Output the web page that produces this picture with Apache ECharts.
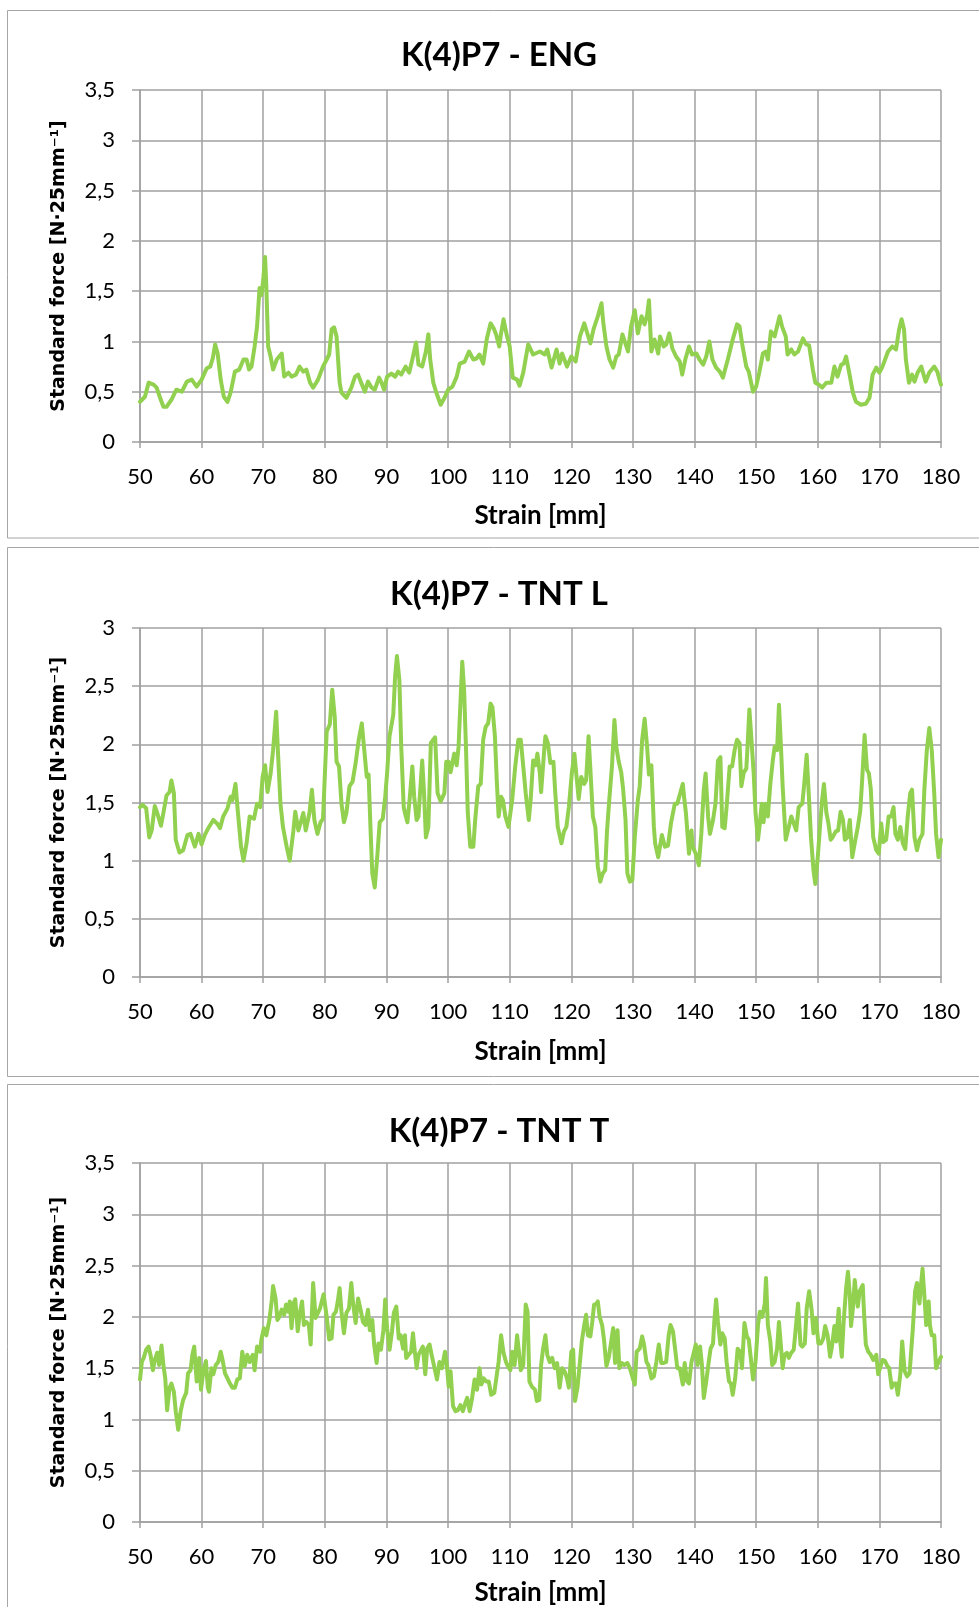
<!DOCTYPE html>
<html><head><meta charset="utf-8">
<script src="https://cdn.jsdelivr.net/npm/echarts@6/dist/echarts.min.js"></script>
<style>html,body{margin:0;padding:0;background:#fff}#c{width:979px;height:1607px}</style>
</head><body><div id="c"></div>
<script>
const chartTitles = ['K(4)P7 - ENG', 'K(4)P7 - TNT L', 'K(4)P7 - TNT T'];
const xAxisTitle = 'Strain [mm]';
const yAxisTitle = 'Standard force [N·25mm⁻¹]';
const xTicks = [50, 180, 10];
const yMaxes = [3.5, 3, 3.5];

const engX = [50.0,50.8,51.4,52.2,52.7,53.2,53.8,54.3,55.1,55.9,56.8,57.6,58.4,59.2,60.0,60.8,61.4,61.8,62.2,62.6,63.1,63.6,64.2,64.7,65.4,66.1,66.8,67.3,67.7,68.1,68.6,69.0,69.4,69.7,70.0,70.3,70.5,70.8,71.2,71.6,72.2,73.0,73.4,74.1,74.6,75.3,75.9,76.5,77.0,77.6,78.1,78.9,79.7,80.3,80.7,81.1,81.5,81.9,82.4,82.7,83.5,84.3,84.9,85.4,85.9,86.5,87.0,87.6,88.1,88.8,89.2,89.6,90.1,90.8,91.4,91.9,92.4,93.1,93.7,94.2,94.8,95.2,95.8,96.4,96.8,97.1,97.6,98.1,98.8,99.5,100.0,100.7,101.4,101.9,102.7,103.4,104.1,104.6,105.1,105.7,106.3,106.9,107.4,107.8,108.3,108.6,109.0,109.5,110.0,110.5,111.2,111.6,112.2,113.0,113.8,114.9,115.7,116.1,116.8,117.6,118.1,118.5,119.3,120.0,120.7,121.4,122.1,122.5,123.1,123.6,124.3,124.9,125.2,125.7,126.2,126.8,127.3,127.7,128.3,128.6,129.2,129.7,130.3,130.8,131.4,131.9,132.3,132.6,133.0,133.5,134.1,134.4,135.0,135.4,135.9,136.4,137.0,137.6,138.0,138.5,139.1,139.6,140.3,140.8,141.4,141.9,142.4,142.9,143.5,144.1,144.6,145.4,146.2,146.9,147.3,147.8,148.4,148.8,149.5,150.0,150.5,151.1,151.6,151.9,152.4,153.0,153.4,153.8,154.2,154.8,155.1,155.7,156.2,156.8,157.6,158.1,158.6,159.2,159.6,160.2,160.7,161.4,162.2,162.7,163.2,163.8,164.2,164.6,165.1,165.7,166.2,167.0,167.8,168.4,168.9,169.5,170.0,170.5,171.4,172.1,172.7,173.2,173.6,174.0,174.3,174.8,175.3,175.7,176.2,176.8,177.5,178.1,178.9,179.4,180.0];
const engY = [0.40,0.45,0.59,0.57,0.54,0.45,0.35,0.35,0.42,0.52,0.50,0.60,0.62,0.55,0.62,0.73,0.75,0.83,0.97,0.88,0.62,0.45,0.40,0.49,0.70,0.72,0.82,0.82,0.72,0.75,0.95,1.15,1.53,1.46,1.61,1.84,1.55,0.95,0.85,0.72,0.82,0.88,0.65,0.69,0.65,0.67,0.75,0.70,0.72,0.59,0.54,0.62,0.75,0.82,0.87,1.12,1.14,1.05,0.59,0.49,0.44,0.54,0.65,0.67,0.59,0.50,0.60,0.54,0.52,0.64,0.59,0.52,0.65,0.68,0.65,0.70,0.67,0.75,0.69,0.82,0.99,0.77,0.75,0.90,1.07,0.82,0.59,0.49,0.37,0.45,0.52,0.55,0.65,0.78,0.80,0.90,0.82,0.83,0.87,0.78,1.03,1.18,1.13,1.07,0.95,1.08,1.22,1.07,0.95,0.64,0.62,0.56,0.69,0.97,0.87,0.90,0.87,0.92,0.74,0.92,0.78,0.88,0.75,0.85,0.80,1.05,1.18,1.10,0.98,1.12,1.25,1.38,1.18,0.95,0.82,0.74,0.85,0.87,1.07,1.08,0.90,1.15,1.31,1.08,1.25,1.17,1.26,1.41,0.90,1.02,0.88,1.05,0.95,0.97,1.08,0.93,0.85,0.80,0.67,0.82,0.95,0.87,0.88,0.82,0.77,0.85,1.00,0.82,0.74,0.70,0.64,0.82,1.02,1.17,1.15,0.95,0.75,0.70,0.50,0.55,0.69,0.88,0.90,0.82,1.10,1.05,1.15,1.25,1.15,1.05,0.87,0.92,0.87,0.90,1.03,0.97,0.96,0.72,0.59,0.57,0.54,0.59,0.59,0.75,0.65,0.77,0.78,0.85,0.69,0.49,0.40,0.37,0.38,0.44,0.67,0.74,0.69,0.75,0.90,0.95,0.92,1.12,1.22,1.12,0.82,0.59,0.67,0.60,0.69,0.75,0.60,0.69,0.75,0.70,0.57];

const tntLX = [50.0,50.4,51.0,51.5,51.9,52.4,52.8,53.4,53.8,54.3,54.8,55.1,55.5,55.8,56.4,57.0,57.7,58.2,58.9,59.5,60.0,60.5,61.2,61.9,62.5,63.0,63.5,64.2,64.7,65.0,65.5,65.9,66.4,66.8,67.3,67.8,68.5,69.0,69.5,69.9,70.3,70.7,71.2,71.6,72.1,72.4,72.8,73.2,73.8,74.3,74.9,75.2,75.7,76.1,76.5,76.9,77.5,77.9,78.3,78.8,79.3,79.7,80.3,80.8,81.2,81.6,81.9,82.3,82.7,83.1,83.5,84.0,84.5,85.0,85.5,86.0,86.4,86.8,87.1,87.4,87.7,88.1,88.5,88.9,89.4,89.8,90.1,90.5,91.1,91.4,91.7,92.1,92.4,92.8,93.0,93.4,93.8,94.2,94.5,94.9,95.2,95.8,96.1,96.4,96.8,97.2,97.6,97.9,98.3,98.8,99.4,99.7,100.1,100.4,101.0,101.4,101.7,102.1,102.3,102.6,102.9,103.2,103.6,104.1,104.4,104.9,105.3,105.7,106.1,106.5,106.9,107.2,107.6,107.9,108.2,108.6,108.9,109.3,109.8,110.4,110.9,111.4,111.8,112.2,112.6,113.1,113.4,113.8,114.2,114.5,114.9,115.1,115.6,115.8,116.2,116.6,117.1,117.4,117.8,118.4,118.8,119.2,119.6,120.1,120.5,120.8,121.2,121.6,122.1,122.4,122.8,123.1,123.5,123.9,124.3,124.7,125.1,125.5,125.8,126.2,126.6,127.0,127.3,127.7,128.1,128.4,128.8,129.1,129.5,129.9,130.3,130.8,131.1,131.5,131.9,132.3,132.6,133.0,133.4,133.6,134.1,134.7,135.2,135.7,136.2,136.8,137.2,138.1,138.3,138.6,139.1,139.5,139.7,140.2,140.7,141.1,141.5,141.8,142.2,142.5,143.0,143.4,143.8,144.2,144.5,144.9,145.2,145.7,146.1,146.5,146.9,147.3,147.6,148.0,148.4,148.6,148.9,149.2,149.6,149.9,150.3,150.6,150.9,151.2,151.5,151.9,152.3,152.7,153.0,153.4,153.7,154.0,154.3,154.8,155.1,155.7,156.1,156.5,156.9,157.5,157.8,158.2,158.5,158.9,159.3,159.6,160.0,160.4,160.7,161.0,161.4,161.7,162.1,162.4,162.9,163.3,163.7,164.1,164.4,164.8,165.2,165.6,166.0,166.5,166.9,167.2,167.6,168.0,168.3,168.6,169.0,169.5,169.9,170.3,170.6,171.1,171.5,171.9,172.3,172.6,173.0,173.4,173.8,174.2,174.6,175.0,175.3,175.7,176.1,176.5,177.0,177.3,177.7,178.1,178.5,178.9,179.2,179.6,180.0];
const tntLY = [1.46,1.48,1.45,1.20,1.26,1.47,1.41,1.30,1.41,1.56,1.59,1.69,1.58,1.18,1.07,1.09,1.22,1.23,1.12,1.23,1.14,1.22,1.29,1.35,1.32,1.28,1.38,1.45,1.55,1.52,1.66,1.41,1.12,1.00,1.15,1.38,1.36,1.49,1.46,1.72,1.82,1.59,1.75,1.95,2.28,1.92,1.49,1.29,1.12,1.00,1.26,1.42,1.26,1.33,1.41,1.26,1.41,1.61,1.35,1.23,1.33,1.36,2.11,2.17,2.47,2.24,1.85,1.81,1.49,1.33,1.41,1.64,1.68,1.84,2.04,2.18,1.95,1.72,1.74,1.29,0.89,0.77,1.03,1.33,1.36,1.55,1.75,2.07,2.25,2.58,2.76,2.55,1.98,1.46,1.41,1.33,1.55,1.81,1.55,1.35,1.38,1.86,1.58,1.20,1.29,2.01,2.04,2.06,1.58,1.51,1.58,1.85,1.85,1.76,1.92,1.82,1.98,2.47,2.71,2.47,1.98,1.41,1.12,1.12,1.35,1.64,1.66,2.04,2.15,2.18,2.35,2.32,2.07,1.69,1.38,1.55,1.52,1.38,1.29,1.52,1.81,2.04,2.04,1.81,1.58,1.35,1.52,1.86,1.82,1.92,1.75,1.59,1.95,2.07,2.01,1.84,1.85,1.58,1.29,1.15,1.25,1.29,1.46,1.76,1.92,1.75,1.53,1.72,1.66,1.69,2.07,1.78,1.38,1.29,0.95,0.82,0.89,0.92,1.26,1.55,1.81,2.21,1.98,1.85,1.76,1.62,1.35,0.89,0.82,0.83,1.20,1.52,1.64,2.04,2.22,1.98,1.74,1.82,1.29,1.15,1.03,1.22,1.12,1.13,1.33,1.49,1.49,1.66,1.55,1.41,1.06,1.26,1.12,1.06,0.96,1.23,1.61,1.75,1.38,1.23,1.35,1.49,1.86,1.89,1.29,1.28,1.46,1.81,1.81,1.95,2.04,2.01,1.64,1.76,1.79,1.98,2.30,2.07,1.75,1.41,1.18,1.32,1.49,1.33,1.49,1.38,1.66,1.86,1.98,1.95,2.34,2.01,1.64,1.18,1.18,1.38,1.32,1.26,1.46,1.49,1.66,1.91,1.61,1.20,0.92,0.80,1.03,1.32,1.52,1.66,1.41,1.33,1.18,1.20,1.25,1.26,1.42,1.35,1.18,1.20,1.35,1.03,1.15,1.29,1.43,1.69,2.08,1.78,1.75,1.62,1.20,1.09,1.06,1.32,1.16,1.18,1.38,1.38,1.46,1.23,1.18,1.29,1.15,1.10,1.38,1.58,1.61,1.20,1.09,1.18,1.23,1.61,1.95,2.14,1.95,1.58,1.23,1.03,1.18];

const tntTX = [50.0,50.3,50.6,51.0,51.4,51.7,52.1,52.4,52.8,53.1,53.5,53.8,54.1,54.4,54.8,55.1,55.5,55.8,56.2,56.6,57.0,57.5,57.8,58.2,58.5,58.8,59.2,59.6,59.9,60.3,60.7,61.0,61.2,61.6,61.9,62.3,62.7,63.1,63.4,63.8,64.2,64.6,65.0,65.4,65.8,66.2,66.6,67.0,67.4,67.8,68.3,68.6,69.0,69.5,69.7,70.1,70.5,71.0,71.4,71.6,72.0,72.3,72.6,73.0,73.4,73.7,74.1,74.3,74.6,74.9,75.2,75.6,75.9,76.3,76.6,77.0,77.4,77.7,78.1,78.5,78.8,79.2,79.5,79.8,80.3,80.7,81.1,81.4,81.8,82.1,82.4,82.7,83.1,83.5,83.9,84.3,84.6,85.0,85.4,85.8,86.2,86.6,87.0,87.3,87.7,88.0,88.4,88.7,89.1,89.5,89.8,90.1,90.5,90.9,91.2,91.6,92.0,92.3,92.7,93.0,93.2,93.6,94.0,94.3,94.6,94.9,95.2,95.5,95.9,96.3,96.6,97.0,97.4,97.8,98.2,98.6,99.0,99.5,99.8,100.1,100.4,100.8,101.2,101.6,102.0,102.4,102.8,103.1,103.5,103.9,104.3,104.7,105.1,105.4,105.8,106.2,106.6,107.0,107.5,107.8,108.2,108.6,109.0,109.4,109.7,110.1,110.4,110.8,111.2,111.5,111.8,112.2,112.6,112.9,113.2,113.6,114.1,114.4,114.8,115.1,115.4,115.8,116.1,116.5,116.9,117.3,117.7,118.1,118.5,118.9,119.3,119.6,120.0,120.3,120.6,121.0,121.4,121.7,122.1,122.4,122.7,123.1,123.4,123.7,124.1,124.3,124.6,125.0,125.3,125.7,126.1,126.4,126.8,127.1,127.5,127.8,128.2,128.6,129.1,129.5,129.8,130.3,130.6,131.1,131.5,131.8,132.2,132.5,133.0,133.4,133.8,134.2,134.6,135.0,135.4,135.8,136.1,136.5,136.9,137.2,137.6,138.1,138.4,138.8,139.1,139.5,139.8,140.2,140.5,140.9,141.2,141.5,141.9,142.3,142.6,143.0,143.2,143.5,143.8,144.2,144.5,144.9,145.2,145.6,145.9,146.2,146.6,147.0,147.4,147.7,148.1,148.5,148.8,149.2,149.5,149.9,150.3,150.6,151.0,151.4,151.6,151.9,152.3,152.6,153.0,153.4,153.7,154.0,154.3,154.6,155.0,155.3,155.7,156.1,156.4,156.8,157.2,157.5,157.9,158.2,158.6,159.0,159.3,159.7,160.1,160.5,160.9,161.2,161.6,162.0,162.3,162.7,163.0,163.4,163.6,163.9,164.2,164.6,164.9,165.2,165.4,165.7,166.0,166.3,166.5,166.8,167.3,167.5,167.8,168.2,168.6,169.0,169.5,169.8,170.2,170.5,170.9,171.3,171.6,172.0,172.3,172.7,173.0,173.4,173.7,174.1,174.5,174.9,175.4,175.8,176.1,176.5,176.8,177.0,177.3,177.6,178.0,178.2,178.5,178.9,179.2,179.6,180.0];
const tntTY = [1.39,1.56,1.60,1.68,1.71,1.63,1.48,1.58,1.65,1.53,1.72,1.53,1.40,1.09,1.31,1.35,1.27,1.08,0.90,1.08,1.19,1.26,1.45,1.48,1.63,1.71,1.37,1.60,1.29,1.48,1.57,1.31,1.27,1.50,1.44,1.53,1.56,1.66,1.58,1.45,1.40,1.35,1.31,1.31,1.39,1.40,1.66,1.52,1.63,1.56,1.63,1.48,1.71,1.66,1.78,1.89,1.82,1.97,2.17,2.30,2.18,1.97,2.00,2.07,2.02,2.12,2.05,2.15,1.89,2.13,2.17,1.86,2.02,2.15,1.92,1.95,1.92,1.73,2.33,1.99,2.00,2.08,2.08,2.22,2.00,1.78,1.79,2.02,2.05,2.15,2.28,2.05,1.84,2.04,2.08,2.33,2.12,1.94,2.18,2.07,1.95,1.92,2.07,1.87,1.97,1.73,1.55,1.74,1.68,1.87,2.17,1.89,1.68,1.86,2.04,2.10,1.79,1.82,1.69,1.82,1.60,1.63,1.66,1.84,1.66,1.50,1.63,1.63,1.71,1.44,1.69,1.73,1.61,1.50,1.39,1.56,1.50,1.66,1.53,1.32,1.47,1.13,1.08,1.09,1.14,1.08,1.16,1.21,1.08,1.21,1.39,1.29,1.50,1.34,1.40,1.37,1.37,1.24,1.26,1.27,1.56,1.82,1.65,1.56,1.52,1.48,1.66,1.53,1.82,1.66,1.48,1.53,2.12,2.05,1.37,1.32,1.29,1.18,1.19,1.53,1.68,1.82,1.63,1.56,1.60,1.50,1.55,1.31,1.50,1.47,1.40,1.31,1.66,1.68,1.18,1.31,1.56,1.76,1.92,2.02,1.82,1.81,1.95,2.12,2.13,2.15,2.00,1.92,1.78,1.52,1.61,1.73,1.89,1.55,1.87,1.50,1.55,1.53,1.55,1.50,1.50,1.34,1.66,1.69,1.81,1.73,1.56,1.53,1.40,1.42,1.56,1.73,1.55,1.55,1.56,1.82,1.92,1.86,1.66,1.50,1.50,1.34,1.55,1.37,1.35,1.56,1.63,1.73,1.53,1.71,1.53,1.21,1.37,1.56,1.69,1.74,1.95,2.17,1.95,1.73,1.84,1.79,1.56,1.37,1.35,1.24,1.40,1.69,1.66,1.50,1.94,1.81,1.78,1.56,1.39,1.56,1.92,2.05,2.00,2.13,2.38,1.92,1.76,1.53,1.56,1.69,1.95,1.73,1.50,1.63,1.65,1.60,1.65,1.68,1.87,2.13,1.73,1.71,1.74,2.08,2.25,2.07,1.84,1.99,1.74,1.74,1.79,1.91,1.82,1.61,1.71,1.91,1.76,2.08,1.79,1.61,1.95,2.28,2.44,2.21,1.91,2.08,2.36,2.18,2.10,2.25,2.31,2.05,1.73,1.66,1.63,1.58,1.63,1.44,1.52,1.58,1.57,1.52,1.50,1.31,1.35,1.35,1.24,1.44,1.76,1.47,1.42,1.45,1.86,2.25,2.33,2.13,2.34,2.47,2.21,1.92,2.15,1.92,1.82,1.82,1.50,1.56,1.61];

const seriesX = [engX, tntLX, tntTX];
const seriesY = [engY, tntLY, tntTY];

const gridTops = [90, 628, 1163];
const gridHeights = [352, 349, 360];
const titleTops = [34, 573, 1110];
const xNameGaps = [61, 62, 58];

const GRID = '#a0a0a0';
const GREEN = '#92d050';

const chart = echarts.init(document.getElementById('c'), null, {renderer: 'canvas'});
const grids = [], xAxes = [], yAxes = [], series = [], titleOpts = [];
for (let i = 0; i < 3; i++) {
  grids.push({left: 140, width: 801, top: gridTops[i], height: gridHeights[i], containLabel: false});
  titleOpts.push({
    text: chartTitles[i], left: 494, top: titleTops[i], textAlign: 'center',
    textStyle: {fontFamily: 'Lato', fontWeight: 'bold', fontSize: 33, color: '#000'}
  });
  xAxes.push({
    gridIndex: i, type: 'value', min: xTicks[0], max: xTicks[1], interval: xTicks[2],
    axisLine: {show: true, onZero: false, lineStyle: {color: GRID, width: 1.5}},
    axisTick: {show: true, length: 6, lineStyle: {color: GRID, width: 1.5}},
    axisLabel: {margin: 24, fontFamily: 'Lato', fontSize: 22, color: '#000'},
    splitLine: {show: true, lineStyle: {color: GRID, width: 1.5}},
    name: xAxisTitle, nameLocation: 'middle', nameGap: xNameGaps[i],
    nameTextStyle: {fontFamily: 'Lato', fontWeight: 'bold', fontSize: 26, color: '#000'}
  });
  yAxes.push({
    gridIndex: i, type: 'value', min: 0, max: yMaxes[i], interval: 0.5,
    axisLine: {show: true, lineStyle: {color: GRID, width: 1.5}},
    axisTick: {show: true, length: 8, lineStyle: {color: GRID, width: 1.5}},
    axisLabel: {margin: 25, fontFamily: 'Lato', fontSize: 22, color: '#000',
      formatter: v => String(v).replace('.', ',')},
    splitLine: {show: true, lineStyle: {color: GRID, width: 1.5}},
    name: yAxisTitle, nameLocation: 'middle', nameGap: 71, nameRotate: 90,
    nameTextStyle: {fontFamily: 'DejaVu Sans', fontWeight: 'bold', fontSize: 19, color: '#000'}
  });
  series.push({
    type: 'line', xAxisIndex: i, yAxisIndex: i, showSymbol: false, symbol: 'none',
    smooth: false, animation: false, clip: true,
    lineStyle: {color: GREEN, width: 4, join: 'round', cap: 'round'},
    data: seriesX[i].map((x, k) => [x, seriesY[i][k]])
  });
}

chart.setOption({
  animation: false,
  backgroundColor: '#fff',
  title: titleOpts,
  grid: grids,
  xAxis: xAxes,
  yAxis: yAxes,
  series: series,
  graphic: [
    {type: 'rect', shape: {x: 7.5, y: 10.5, width: 990, height: 527.5}, style: {fill: 'none', stroke: '#a6a6a6', lineWidth: 1}, z: -1},
    {type: 'rect', shape: {x: 7.5, y: 547.5, width: 990, height: 529}, style: {fill: 'none', stroke: '#a6a6a6', lineWidth: 1}, z: -1},
    {type: 'rect', shape: {x: 7.5, y: 1084.5, width: 990, height: 600}, style: {fill: 'none', stroke: '#a6a6a6', lineWidth: 1}, z: -1}
  ]
});
</script>
</body></html>
